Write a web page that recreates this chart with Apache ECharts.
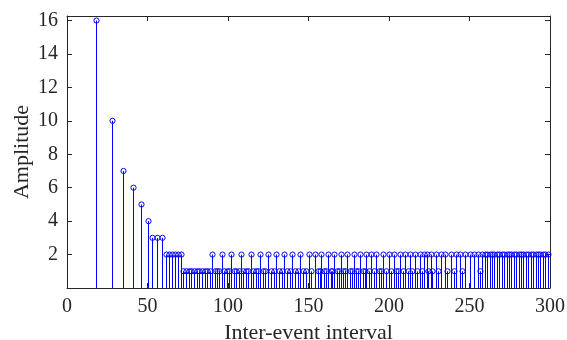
<!DOCTYPE html>
<html>
<head>
<meta charset="utf-8">
<script src="https://cdn.jsdelivr.net/npm/echarts@6/dist/echarts.min.js"></script>
<style>html,body{margin:0;padding:0;background:#fff;overflow:hidden}#c{width:567px;height:340px}</style>
</head>
<body>
<div id="c"></div>
<script>
// Early (large-amplitude) stems
var earlyX = [18, 28, 35, 41, 46, 50, 53, 56, 59, 61.5, 63.3, 65.2, 67, 68.9, 70.8];
var earlyY = [16, 10, 7, 6, 5, 4, 3, 3, 3, 2, 2, 2, 2, 2, 2];
// Stems with amplitude 2
var twosX = [90, 96, 102, 108, 114, 120, 125, 130, 135, 140, 145, 150, 154, 158, 162, 166, 170, 174, 178, 182, 186, 189, 192, 196.5, 200, 203, 207, 210, 213, 216, 219, 222,
  223.5, 226, 229, 232, 235, 238.5, 241.5, 244, 247, 250, 253, 255.5, 258, 259.5, 261, 262.5, 264, 265.5, 267, 268.5, 270, 271.5, 273, 274.5, 276, 277.5, 279, 280.5, 282, 283.5, 285, 286.5, 288, 289.5, 291, 292.5, 294, 295.5, 297, 298.5];
// Stems with amplitude 1
var onesX = [72.3, 73.9, 75.5, 77.2, 78.9, 80.5, 82.2, 83.9, 85.5, 87.1, 88.6, 91.7, 93.3, 94.6, 97.6, 99.1, 100.5, 103.7, 105.2, 106.6, 109.6, 111, 112.5, 115.6, 117.1, 118.5, 121.6, 123.2, 126.7, 128.3, 131.7, 133.3, 136.7, 138.3, 141.7, 143.3, 146.7, 148.3, 151.6, 155.8, 157.2, 159.7, 160.9, 163.8, 164.8, 167.7, 168.8, 171.7, 172.8, 175.7, 176.8, 179.6, 180.8, 183.7, 184.8, 187.5, 190.6, 193.9, 195, 198.2, 201.5, 204.6, 205.7, 208.5, 211.5, 214.5, 217.5, 220.5,
  224, 227, 230.6, 235.8, 240.6, 245.5, 256.5];

var pts = [];
for (var i = 0; i < earlyX.length; i++) pts.push([earlyX[i], earlyY[i]]);
for (var i = 0; i < twosX.length; i++) pts.push([twosX[i], 2]);
for (var i = 0; i < onesX.length; i++) pts.push([onesX[i], 1]);

var FONT = 'Liberation Serif';
var AX = '#262626';
var chart = echarts.init(document.getElementById('c'), null, {renderer: 'canvas'});
chart.setOption({
  animation: false,
  grid: {left: 67, right: 17, top: 16, bottom: 52, containLabel: false, outerBoundsMode: 'none'},
  xAxis: [{
    type: 'value', min: 0, max: 300, interval: 50, position: 'bottom',
    name: 'Inter-event interval', nameLocation: 'middle', nameGap: 28,
    nameTextStyle: {fontFamily: FONT, fontSize: 22, color: '#262626'},
    axisLine: {show: true, onZero: false, lineStyle: {color: AX, width: 1}},
    axisTick: {show: true, inside: true, length: 5, lineStyle: {color: AX}},
    axisLabel: {fontFamily: FONT, fontSize: 20, color: '#262626', margin: 9},
    splitLine: {show: false}
  }, {
    type: 'value', min: 0, max: 300, interval: 50, position: 'top',
    axisLine: {show: true, onZero: false, lineStyle: {color: AX, width: 1}},
    axisTick: {show: true, inside: true, length: 5, lineStyle: {color: AX}},
    axisLabel: {show: false}, splitLine: {show: false}
  }],
  yAxis: [{
    type: 'value', min: 0, max: 16.27, interval: 2, position: 'left',
    name: 'Amplitude', nameLocation: 'middle', nameGap: 34, nameMoveOverlap: false,
    nameTextStyle: {fontFamily: FONT, fontSize: 22, color: '#262626'},
    axisLine: {show: true, onZero: false, lineStyle: {color: AX, width: 1}},
    axisTick: {show: true, inside: true, length: 5, lineStyle: {color: AX}},
    axisLabel: {fontFamily: FONT, fontSize: 20, color: '#262626', margin: 9,
      formatter: function (v) { return v === 0 ? '' : String(v); }},
    splitLine: {show: false}
  }, {
    type: 'value', min: 0, max: 16.27, interval: 2, position: 'right',
    axisLine: {show: true, onZero: false, lineStyle: {color: AX, width: 1}},
    axisTick: {show: true, inside: true, length: 5, lineStyle: {color: AX}},
    axisLabel: {show: false}, splitLine: {show: false}
  }],
  series: [{
    type: 'custom',
    xAxisIndex: 0, yAxisIndex: 0,
    data: pts,
    renderItem: function (params, api) {
      var x = api.value(0), y = api.value(1);
      var top = api.coord([x, y]);
      var base = api.coord([x, 0]);
      var px = Math.round(top[0]) + 0.5;
      return {
        type: 'group',
        children: [{
          type: 'line',
          shape: {x1: px, y1: base[1], x2: px, y2: top[1]},
          style: {stroke: '#0000ff', lineWidth: 1}
        }, {
          type: 'circle',
          shape: {cx: px, cy: top[1], r: 2.6},
          style: {stroke: '#0000ff', fill: 'none', lineWidth: 1}
        }]
      };
    }
  }]
});
</script>
</body>
</html>
